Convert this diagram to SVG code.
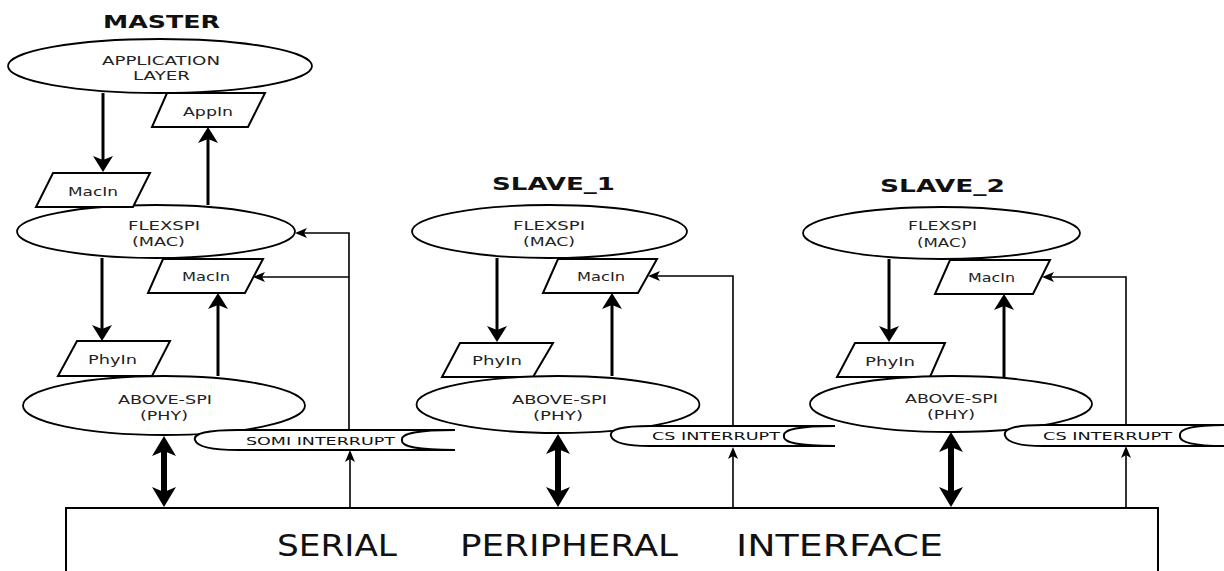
<svg xmlns="http://www.w3.org/2000/svg" width="1224" height="571" viewBox="0 0 1224 571">
<style>
.sh{fill:#fff;stroke:#000;stroke-width:2}
.el{fill:#fff;stroke:#000;stroke-width:1.8}
.t{font-family:"DejaVu Sans","Liberation Sans",sans-serif;font-size:12.5px;fill:#222}
.ti{font-family:"DejaVu Sans","Liberation Sans",sans-serif;font-size:11px;fill:#111}
.h{font-family:"DejaVu Sans","Liberation Sans",sans-serif;font-size:18px;font-weight:bold;fill:#111}
.big{font-family:"DejaVu Sans","Liberation Sans",sans-serif;font-size:31px;fill:#111}
.thick{fill:none;stroke:#000;stroke-width:3;marker-end:url(#ah)}
.thin{fill:none;stroke:#000;stroke-width:1.6}
.thinA{fill:none;stroke:#000;stroke-width:1.6;marker-end:url(#as)}
.dbl{fill:none;stroke:#000;stroke-width:6;marker-end:url(#ad);marker-start:url(#ad)}
</style>
<defs>
<marker id="ah" viewBox="0 0 16 20" refX="12" refY="10" markerWidth="16" markerHeight="20" markerUnits="userSpaceOnUse" orient="auto"><path d="M0,0 L16,10 L0,20 L4,10 Z" fill="#000"/></marker>
<marker id="as" viewBox="0 0 12 10" refX="10" refY="5" markerWidth="12" markerHeight="10" markerUnits="userSpaceOnUse" orient="auto"><path d="M0,0 L12,5 L0,10 L3,5 Z" fill="#000"/></marker>
<marker id="ad" viewBox="0 0 20 24" refX="14" refY="12" markerWidth="20" markerHeight="24" markerUnits="userSpaceOnUse" orient="auto-start-reverse"><path d="M0,0 L20,12 L0,24 L5,12 Z" fill="#000"/></marker>
</defs>

<g id="titles">
<text class="h" x="103" y="28" textLength="117" lengthAdjust="spacingAndGlyphs">MASTER</text>
<text class="h" x="492" y="190" textLength="123" lengthAdjust="spacingAndGlyphs">SLAVE_1</text>
<text class="h" x="880" y="192" textLength="125" lengthAdjust="spacingAndGlyphs">SLAVE_2</text>
</g>

<g id="spi">
<rect class="sh" x="66" y="508" width="1092" height="80"/>
<text class="big" x="277" y="556" textLength="120" lengthAdjust="spacingAndGlyphs">SERIAL</text>
<text class="big" x="460" y="556" textLength="218" lengthAdjust="spacingAndGlyphs">PERIPHERAL</text>
<text class="big" x="736" y="556" textLength="207" lengthAdjust="spacingAndGlyphs">INTERFACE</text>
</g>

<g id="connectors">
<path class="thick" d="M103,93 V168"/>
<path class="thick" d="M208,205 V131"/>
<path class="thick" d="M102,258 V337"/>
<path class="thick" d="M218,376 V297"/>
<path class="thinA" d="M349,430 V233 H297"/>
<path class="thinA" d="M349,277 H255"/>
<path class="thinA" d="M350,508 V452"/>
<path class="dbl" d="M164,442 V501"/>
<path class="thick" d="M497,258 V338"/>
<path class="thick" d="M612,376 V297"/>
<path class="thinA" d="M733,426 V276 H650"/>
<path class="thinA" d="M733,508 V449"/>
<path class="dbl" d="M558,440 V501"/>
<path class="thick" d="M889,259 V338"/>
<path class="thick" d="M1004,377 V298"/>
<path class="thinA" d="M1126,425 V277 H1044"/>
<path class="thinA" d="M1126,508 V448"/>
<path class="dbl" d="M951,438 V501"/>
</g>

<g id="m_app">
<ellipse class="el" cx="160" cy="66" rx="152" ry="27"/>
<text class="t" x="102" y="65" textLength="118" lengthAdjust="spacingAndGlyphs">APPLICATION</text>
<text class="t" x="133" y="80" textLength="57" lengthAdjust="spacingAndGlyphs">LAYER</text>
</g>
<g id="m_appin">
<polygon class="sh" points="167,93 265,93 248,127 152,127"/>
<text class="t" x="183" y="116" textLength="50" lengthAdjust="spacingAndGlyphs">AppIn</text>
</g>
<g id="m_mac">
<ellipse class="el" cx="156" cy="231.5" rx="139" ry="26.5"/>
<text class="t" x="128" y="230" textLength="72" lengthAdjust="spacingAndGlyphs">FLEXSPI</text>
<text class="t" x="132" y="246" textLength="53" lengthAdjust="spacingAndGlyphs">(MAC)</text>
</g>
<g id="m_macin1">
<polygon class="sh" points="53,173 150,173 133,207 36,207"/>
<text class="t" x="68" y="196" textLength="50" lengthAdjust="spacingAndGlyphs">MacIn</text>
</g>
<g id="m_macin2">
<polygon class="sh" points="163,259 263,259 245,293 148,293"/>
<text class="t" x="182" y="281" textLength="48" lengthAdjust="spacingAndGlyphs">MacIn</text>
</g>
<g id="m_phyin">
<polygon class="sh" points="77,341 170,341 152,376 58,376"/>
<text class="t" x="88" y="364" textLength="49" lengthAdjust="spacingAndGlyphs">PhyIn</text>
</g>
<g id="m_phy">
<ellipse class="el" cx="164" cy="405.5" rx="141" ry="29.5"/>
<text class="t" x="118" y="404" textLength="94" lengthAdjust="spacingAndGlyphs">ABOVE-SPI</text>
<text class="t" x="140" y="420" textLength="48" lengthAdjust="spacingAndGlyphs">(PHY)</text>
</g>
<g id="m_somi">
<path class="sh" d="M455,430 L238,430 Q192,430 195,440 Q198,450 238,450 L455,450 Q400,450 402,440 Q400,430 455,430 Z"/>
<text class="ti" x="246" y="445" textLength="149" lengthAdjust="spacingAndGlyphs">SOMI INTERRUPT</text>
</g>

<g id="s1_mac">
<ellipse class="el" cx="549.5" cy="231.5" rx="137.5" ry="26.5"/>
<text class="t" x="513" y="230" textLength="72" lengthAdjust="spacingAndGlyphs">FLEXSPI</text>
<text class="t" x="523" y="246" textLength="52" lengthAdjust="spacingAndGlyphs">(MAC)</text>
</g>
<g id="s1_macin">
<polygon class="sh" points="558,259 657,259 638,293 543,293"/>
<text class="t" x="577" y="281" textLength="48" lengthAdjust="spacingAndGlyphs">MacIn</text>
</g>
<g id="s1_phyin">
<polygon class="sh" points="460,343 553,343 533,377 442,377"/>
<text class="t" x="472" y="365" textLength="50" lengthAdjust="spacingAndGlyphs">PhyIn</text>
</g>
<g id="s1_phy">
<ellipse class="el" cx="558" cy="404.5" rx="141.5" ry="28.5"/>
<text class="t" x="512" y="404" textLength="95" lengthAdjust="spacingAndGlyphs">ABOVE-SPI</text>
<text class="t" x="533" y="420" textLength="50" lengthAdjust="spacingAndGlyphs">(PHY)</text>
</g>
<g id="s1_cs">
<path class="sh" d="M835,426 L650,426 Q608,426 611,436 Q614,446 650,446 L835,446 Q782,446 784,436 Q782,426 835,426 Z"/>
<text class="ti" x="652" y="440" textLength="128" lengthAdjust="spacingAndGlyphs">CS INTERRUPT</text>
</g>

<g id="s2_mac">
<ellipse class="el" cx="941.5" cy="233" rx="138.5" ry="26"/>
<text class="t" x="908" y="230" textLength="69" lengthAdjust="spacingAndGlyphs">FLEXSPI</text>
<text class="t" x="917" y="247" textLength="50" lengthAdjust="spacingAndGlyphs">(MAC)</text>
</g>
<g id="s2_macin">
<polygon class="sh" points="950,260 1050,260 1033,294 935,294"/>
<text class="t" x="968" y="282" textLength="47" lengthAdjust="spacingAndGlyphs">MacIn</text>
</g>
<g id="s2_phyin">
<polygon class="sh" points="855,343 945,343 930,377 837,377"/>
<text class="t" x="865" y="366" textLength="50" lengthAdjust="spacingAndGlyphs">PhyIn</text>
</g>
<g id="s2_phy">
<ellipse class="el" cx="951" cy="404" rx="141" ry="28"/>
<text class="t" x="905" y="403" textLength="93" lengthAdjust="spacingAndGlyphs">ABOVE-SPI</text>
<text class="t" x="927" y="419" textLength="48" lengthAdjust="spacingAndGlyphs">(PHY)</text>
</g>
<g id="s2_cs">
<path class="sh" d="M1226,425 L1043,425 Q1002,425 1005,435.5 Q1008,446 1043,446 L1226,446 Q1178,446 1180,435.5 Q1178,425 1226,425 Z"/>
<text class="ti" x="1043" y="440" textLength="129" lengthAdjust="spacingAndGlyphs">CS INTERRUPT</text>
</g>
</svg>
